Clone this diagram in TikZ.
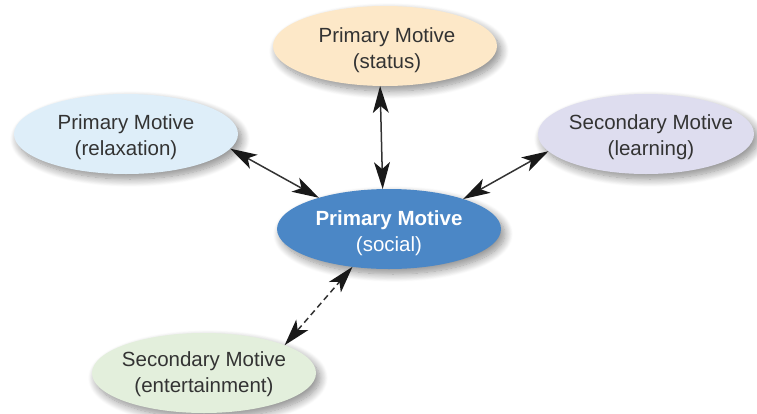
\documentclass[tikz,border=0pt]{standalone}
\usepackage{fontspec}
\setmainfont{Liberation Sans}
\usetikzlibrary{shapes.geometric,arrows.meta,shadows.blur}

\definecolor{peach}{HTML}{FDE8C8}
\definecolor{skyfill}{HTML}{DEEEF9}
\definecolor{lavfill}{HTML}{DEDDEF}
\definecolor{mintfill}{HTML}{E3EFDC}
\definecolor{coreblue}{HTML}{4B87C6}
\definecolor{inkgray}{HTML}{333333}

\tikzset{
  motive/.style={ellipse, minimum width=#1, minimum height=80pt, inner sep=0pt, outer sep=0pt,
    blur shadow={shadow xshift=4pt, shadow yshift=-5pt, shadow blur radius=8pt,
      shadow blur steps=14, shadow opacity=45}},
  motive/.default=224pt,
  label text/.style={align=center, text=inkgray, font=\fontsize{20.5}{26}\selectfont},
  core text/.style={align=center, text=white, font=\fontsize{20.5}{26}\selectfont},
  tip/.tip={Stealth[length=27pt,width=16pt,inset=7pt,color=black!90,fill=black!90,line width=0pt]},
  link/.style={draw=inkgray, line width=1.5pt, tip-tip},
  weaklink/.style={link, dash pattern=on 6pt off 4pt}
}

\begin{document}
\begin{tikzpicture}[x=1pt,y=-1pt]
  \useasboundingbox (0,0) rectangle (757,413);

  % motive ellipses
  \node[motive, fill=peach]   (status) at (385,46)  {};
  \node[motive, fill=skyfill] (relax)  at (126,134) {};
  \node[motive=216pt, fill=lavfill] (learn) at (646,134) {};
  \node[motive, fill=mintfill] (ent)   at (204,373) {};
  \node[motive, fill=coreblue] (social) at (389,229) {};

  % ellipse texts
  \node[label text] (statusT) at (387,50)  {Primary Motive\\(status)};
  \node[label text] (relaxT)  at (126,137) {Primary Motive\\(relaxation)};
  \node[label text] (learnT)  at (651,137) {Secondary Motive\\(learning)};
  \node[label text] (entT)    at (204,374) {Secondary Motive\\(entertainment)};
  \node[core text]  (socialT) at (389,233) {\textbf{Primary Motive}\\(social)};

  % two-way links
  \draw[link] (status.-97) -- (social.99.7);
  \draw[link] (relax.-8.9) -- (social.156.7);
  \draw[link] (learn.-170.3) -- (social.22.7);
  \draw[weaklink] (ent.19) -- (social.-134);
\end{tikzpicture}
\end{document}
